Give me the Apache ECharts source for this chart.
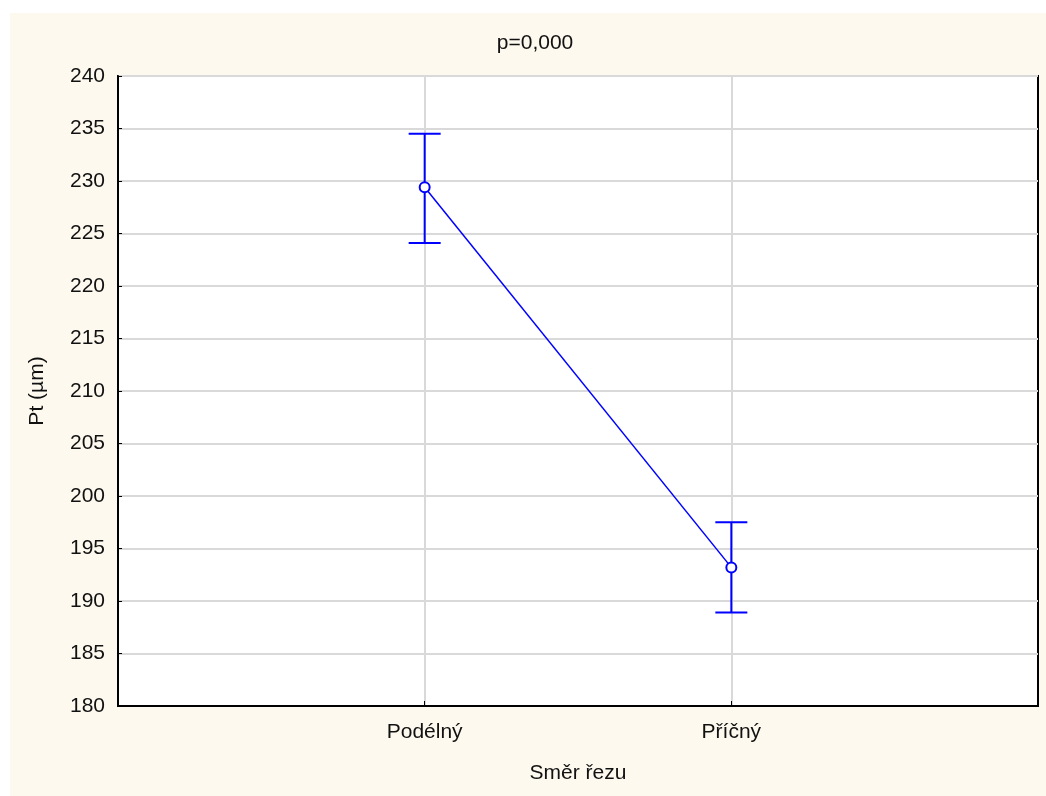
<!DOCTYPE html>
<html>
<head>
<meta charset="utf-8">
<script src="https://cdn.jsdelivr.net/npm/echarts@6/dist/echarts.min.js"></script>
<style>
html,body{margin:0;padding:0;background:#ffffff;}
#chart{width:1046px;height:796px;}
</style>
</head>
<body>
<div id="chart"></div>
<script>
const categories = ['Podélný', 'Příčný'];
const means = [229.4, 193.2];
const upper = [234.5, 197.5];
const lower = [224.1, 188.9];
const yTicks = [180, 185, 190, 195, 200, 205, 210, 215, 220, 225, 230, 235, 240];
const titleText = 'p=0,000';
const xName = 'Směr řezu';
const yName = 'Pt (µm)';

// padded category list so that points sit at 1/3 and 2/3 of the width
const axisCats = [''].concat(categories).concat(['']);
const font = 'Liberation Sans, Arial, sans-serif';

const chart = echarts.init(document.getElementById('chart'), null, {renderer: 'canvas'});
chart.setOption({
  animation: false,
  backgroundColor: '#ffffff',
  graphic: [{
    type: 'rect', z: -10, silent: true,
    shape: {x: 10, y: 13, width: 1036, height: 783},
    style: {fill: '#fdf9ef'}
  }, {
    type: 'text', silent: true, x: 535, y: 43,
    style: {text: titleText, fontFamily: font, fontSize: 21, fill: '#111',
      align: 'center', verticalAlign: 'middle'}
  }],
  grid: {
    left: 118, top: 76, right: 8, bottom: 90,
    show: true, backgroundColor: '#ffffff', borderColor: '#000', borderWidth: 2
  },
  xAxis: {
    type: 'category', data: axisCats, boundaryGap: false,
    name: xName, nameLocation: 'middle', nameGap: 57,
    nameTextStyle: {fontFamily: font, fontSize: 21, color: '#111'},
    axisLine: {show: true, lineStyle: {color: '#000', width: 2}},
    axisTick: {show: true, inside: true, length: 5, lineStyle: {color: '#000'},
      interval: function (i, v) { return v !== ''; }},
    axisLabel: {fontFamily: font, fontSize: 21, color: '#111', margin: 16,
      interval: 0},
    splitLine: {show: true, lineStyle: {color: '#d9d9d9', width: 2},
      interval: function (i, v) { return v !== ''; }}
  },
  yAxis: {
    type: 'value', min: 180, max: 240, interval: 5,
    name: yName, nameLocation: 'middle', nameGap: 70,
    nameTextStyle: {fontFamily: font, fontSize: 21, color: '#111'},
    axisLine: {show: true, lineStyle: {color: '#000', width: 2}},
    axisTick: {show: true, inside: true, length: 4, lineStyle: {color: '#000'}},
    axisLabel: {fontFamily: font, fontSize: 21, color: '#111', margin: 13,
      formatter: function (v) { return yTicks.indexOf(v) >= 0 ? String(v) : ''; }},
    splitLine: {show: true, lineStyle: {color: '#d9d9d9', width: 2}}
  },
  series: [
    {
      type: 'custom',
      data: categories.map(function (c, i) { return [c, lower[i], upper[i]]; }),
      renderItem: function (params, api) {
        const lo = api.coord([api.value(0), api.value(1)]);
        const hi = api.coord([api.value(0), api.value(2)]);
        const hw = 16;
        const st = {stroke: '#0000ff', lineWidth: 2};
        return {
          type: 'group',
          children: [
            {type: 'line', shape: {x1: hi[0], y1: hi[1], x2: lo[0], y2: lo[1]}, style: st},
            {type: 'line', shape: {x1: hi[0] - hw, y1: hi[1], x2: hi[0] + hw, y2: hi[1]}, style: st},
            {type: 'line', shape: {x1: lo[0] - hw, y1: lo[1], x2: lo[0] + hw, y2: lo[1]}, style: st}
          ]
        };
      },
      encode: {x: 0, y: [1, 2]},
      z: 3
    },
    {
      type: 'line',
      data: categories.map(function (c, i) { return [c, means[i]]; }),
      lineStyle: {color: '#0000ff', width: 1.5},
      itemStyle: {color: '#ffffff', borderColor: '#0000ff', borderWidth: 2},
      symbol: 'circle', symbolSize: 10,
      z: 4
    }
  ]
});
</script>
</body>
</html>
